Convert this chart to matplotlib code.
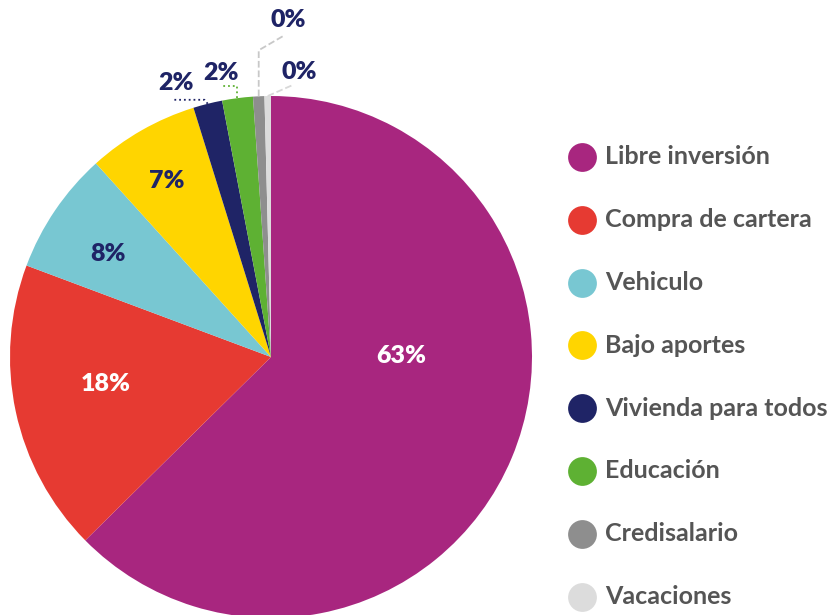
import matplotlib
matplotlib.use("Agg")
import matplotlib.pyplot as plt
import numpy as np

# datos del grafico
categorias = ["Libre inversión", "Compra de cartera", "Vehiculo", "Bajo aportes",
              "Vivienda para todos", "Educación", "Credisalario", "Vacaciones"]
valores = [62.6, 18.1, 7.6, 6.9, 1.8, 1.9, 0.7, 0.4]
etiquetas = ["63%", "18%", "8%", "7%", "2%", "2%", "0%", "0%"]
colores = ["#A8267F", "#E63A32", "#78C7D2", "#FFD500", "#1F2466", "#5EB133", "#8E8E8E", "#DCDCDC"]

AZUL = "#1F2466"
W, H = 833, 615

fig = plt.figure(figsize=(W / 100, H / 100), dpi=100)
ax = fig.add_axes([0, 0, 1, 1])

cx, cy, r = 271, 615 - 357, 261
wedges, _ = ax.pie(valores, colors=colores, startangle=90, counterclock=False,
                   center=(cx, cy), radius=r, frame=True,
                   wedgeprops=dict(linewidth=0))
ax.set_xlim(0, W)
ax.set_ylim(0, H)
ax.set_aspect("equal")
ax.axis("off")

# etiquetas dentro de las porciones grandes: (giro respecto al centro de la porcion, radio relativo, color)
dentro = {0: (22.9, 0.50, "white"), 1: (-2.7, 0.64, "white"),
          2: (1.8, 0.74, AZUL), 3: (1.0, 0.785, AZUL)}
for i, (giro, frac, col) in dentro.items():
    w = wedges[i]
    ang = np.deg2rad((w.theta1 + w.theta2) / 2 + giro)
    x = cx + frac * r * np.cos(ang)
    y = cy + frac * r * np.sin(ang)
    ax.text(x, y, etiquetas[i], ha="center", va="center", color=col,
            fontsize=18, fontweight="heavy", family="Lato")

# porciones pequeñas con linea guia
guias = {
    4: ([(-3, 4), (-36, 4)], (-32, 21), "dotted", AZUL),
    5: ([(0, 12), (-15, 12)], (-16, 25), "dotted", "#5EB133"),
    6: ([(0, 46), (24, 60)], (30, 76), "dashed", "#C8C8C8"),
    7: ([(25, 11)], (32, 24), "dashed", "#D8D8D8"),
}
for i, (ruta, lab, estilo, col) in guias.items():
    w = wedges[i]
    ang = np.deg2rad((w.theta1 + w.theta2) / 2)
    x0 = cx + r * np.cos(ang)
    y0 = cy + r * np.sin(ang)
    xs = [x0] + [x0 + dx for dx, dy in ruta]
    ys = [y0] + [y0 + dy for dx, dy in ruta]
    ax.plot(xs, ys, linestyle=estilo, color=col, linewidth=1.3)
    ax.text(x0 + lab[0], y0 + lab[1], etiquetas[i], ha="center", va="center",
            color=AZUL, fontsize=18, fontweight="heavy", family="Lato")

# leyenda
for k, (nombre, col) in enumerate(zip(categorias, colores)):
    y = 615 - (157 + k * 62.8)
    ax.scatter([582], [y], s=430, color=col, linewidths=0)
    ax.text(605, y, nombre, ha="left", va="center", color="#555555",
            fontsize=18, fontweight="bold", family="Lato")

fig.savefig("out.png", dpi=100)
